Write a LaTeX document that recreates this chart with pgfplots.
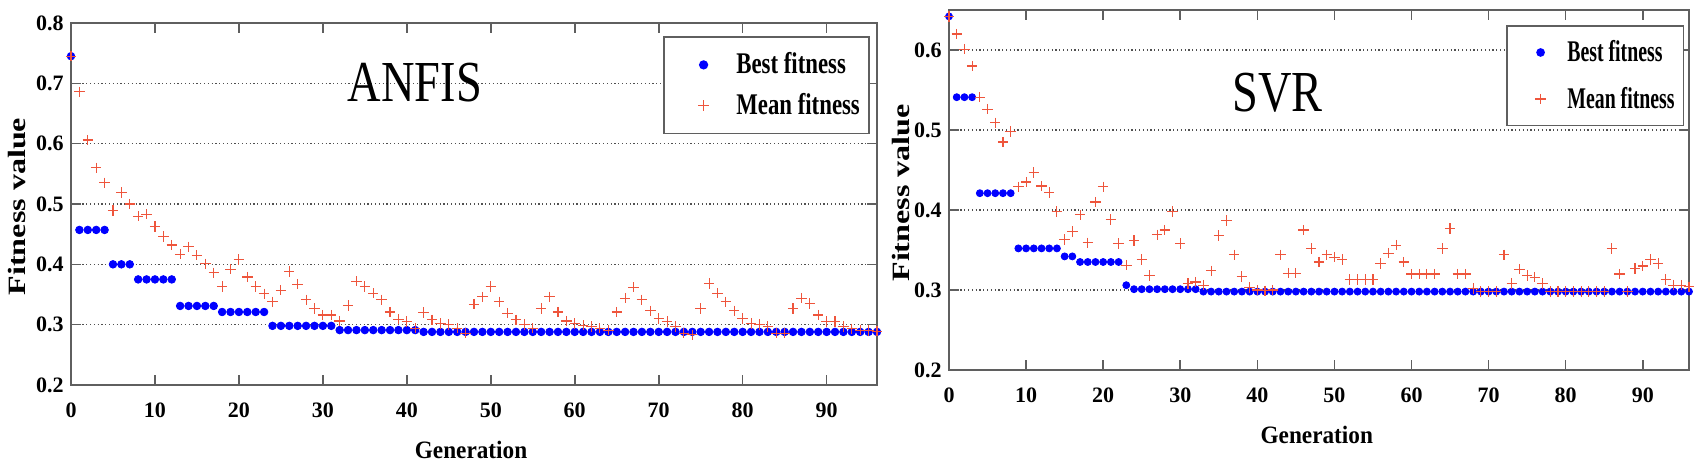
\documentclass[border=0pt]{standalone}
\usepackage{fontspec}
\setmainfont{Liberation Serif}
\usepackage{pgfplots}
\usepackage{pgfplotstable}
\pgfplotsset{compat=1.18}
\definecolor{bestc}{RGB}{0,0,255}
\definecolor{meanc}{RGB}{238,85,60}
\definecolor{axc}{RGB}{95,95,95}
\definecolor{gridc}{RGB}{80,80,80}

\pgfplotstableread{
x best mean
0 0.745 0.745
1 0.457 0.686
2 0.457 0.606
3 0.457 0.560
4 0.457 0.535
5 0.400 0.489
6 0.400 0.519
7 0.400 0.500
8 0.375 0.480
9 0.375 0.483
10 0.375 0.463
11 0.375 0.446
12 0.375 0.432
13 0.331 0.417
14 0.331 0.429
15 0.331 0.415
16 0.331 0.401
17 0.331 0.386
18 0.321 0.363
19 0.321 0.392
20 0.321 0.408
21 0.321 0.379
22 0.321 0.363
23 0.321 0.351
24 0.298 0.338
25 0.298 0.357
26 0.298 0.388
27 0.298 0.367
28 0.298 0.341
29 0.298 0.327
30 0.298 0.316
31 0.298 0.316
32 0.291 0.306
33 0.291 0.332
34 0.291 0.372
35 0.291 0.363
36 0.291 0.352
37 0.291 0.341
38 0.291 0.321
39 0.291 0.309
40 0.291 0.305
41 0.291 0.294
42 0.288 0.320
43 0.288 0.308
44 0.288 0.302
45 0.288 0.300
46 0.288 0.294
47 0.288 0.286
48 0.288 0.334
49 0.288 0.346
50 0.288 0.363
51 0.288 0.338
52 0.288 0.319
53 0.288 0.308
54 0.288 0.300
55 0.288 0.294
56 0.288 0.327
57 0.288 0.346
58 0.288 0.321
59 0.288 0.306
60 0.288 0.302
61 0.288 0.299
62 0.288 0.297
63 0.288 0.294
64 0.288 0.291
65 0.288 0.321
66 0.288 0.344
67 0.288 0.362
68 0.288 0.341
69 0.288 0.323
70 0.288 0.310
71 0.288 0.305
72 0.288 0.297
73 0.288 0.286
74 0.288 0.283
75 0.288 0.327
76 0.288 0.368
77 0.288 0.352
78 0.288 0.338
79 0.288 0.323
80 0.288 0.310
81 0.288 0.302
82 0.288 0.300
83 0.288 0.297
84 0.288 0.286
85 0.288 0.286
86 0.288 0.327
87 0.288 0.344
88 0.288 0.335
89 0.288 0.316
90 0.288 0.305
91 0.288 0.305
92 0.288 0.297
93 0.288 0.293
94 0.288 0.291
95 0.288 0.290
96 0.288 0.289
}\anfis

\pgfplotstableread{
x best mean
0 0.642 0.642
1 0.541 0.620
2 0.541 0.601
3 0.541 0.580
4 0.421 0.541
5 0.421 0.526
6 0.421 0.509
7 0.421 0.485
8 0.421 0.498
9 0.352 0.429
10 0.352 0.435
11 0.352 0.447
12 0.352 0.430
13 0.352 0.422
14 0.352 0.398
15 0.342 0.363
16 0.342 0.373
17 0.335 0.394
18 0.335 0.359
19 0.335 0.410
20 0.335 0.429
21 0.335 0.388
22 0.335 0.358
23 0.306 0.331
24 0.301 0.362
25 0.301 0.338
26 0.301 0.318
27 0.301 0.369
28 0.301 0.375
29 0.301 0.398
30 0.301 0.358
31 0.301 0.308
32 0.301 0.310
33 0.298 0.306
34 0.298 0.324
35 0.298 0.368
36 0.298 0.387
37 0.298 0.344
38 0.298 0.317
39 0.298 0.303
40 0.298 0.300
41 0.298 0.299
42 0.298 0.300
43 0.298 0.344
44 0.298 0.321
45 0.298 0.321
46 0.298 0.375
47 0.298 0.352
48 0.298 0.335
49 0.298 0.344
50 0.298 0.341
51 0.298 0.338
52 0.298 0.313
53 0.298 0.313
54 0.298 0.313
55 0.298 0.313
56 0.298 0.333
57 0.298 0.346
58 0.298 0.356
59 0.298 0.335
60 0.298 0.320
61 0.298 0.320
62 0.298 0.320
63 0.298 0.320
64 0.298 0.352
65 0.298 0.377
66 0.298 0.320
67 0.298 0.320
68 0.298 0.302
69 0.298 0.298
70 0.298 0.298
71 0.298 0.298
72 0.298 0.344
73 0.298 0.308
74 0.298 0.326
75 0.298 0.318
76 0.298 0.316
77 0.298 0.308
78 0.298 0.298
79 0.298 0.298
80 0.298 0.298
81 0.298 0.298
82 0.298 0.298
83 0.298 0.298
84 0.298 0.298
85 0.298 0.298
86 0.298 0.352
87 0.298 0.320
88 0.298 0.298
89 0.298 0.327
90 0.298 0.330
91 0.298 0.338
92 0.298 0.333
93 0.298 0.313
94 0.298 0.306
95 0.298 0.306
96 0.298 0.304
}\svr

\pgfplotsset{
  fitax/.style={
    scale only axis, xmin=0, xmax=96, ymin=0.2,
    xtick={0,10,...,90}, xticklabels={0,10,20,30,40,50,60,70,80,90},
    tick align=inside, major tick length=5pt,
    tick style={axc, line width=0.8pt},
    axis line style={axc, line width=1pt},
    ymajorgrids,
    major grid style={gridc, line width=0.6pt, dash pattern=on 0.6pt off 1.3pt},
    /pgf/number format/assume math mode=true,
    xticklabel style={font=\fontsize{11}{11}\selectfont\bfseries, anchor=base, inner sep=0pt, yshift=-16.5pt},
    yticklabel style={font=\fontsize{11}{11}\selectfont\bfseries, anchor=east, inner sep=0pt, xshift=-3.5pt},
    xlabel={\scalebox{0.93}[1]{Generation}},
    ylabel={\scalebox{1.07}[0.83]{Fitness value}},
    xlabel style={font=\fontsize{12.5}{12.5}\selectfont\bfseries, anchor=base, inner sep=0pt},
    ylabel style={font=\fontsize{15}{15}\selectfont\bfseries, anchor=center, inner sep=0pt},
    legend cell align=left,
  },
  bestp/.style={only marks, mark=*, mark size=1.9pt, color=bestc, mark options={draw=bestc, fill=bestc}},
  meanp/.style={only marks, mark=+, mark size=2.6pt, color=meanc, mark options={line width=0.55pt}},
}

\begin{document}
\begin{tikzpicture}

% ANFIS
\begin{axis}[fitax,
  at={(35.5pt,39.5pt)}, anchor=south west,
  width=403pt, height=181pt,
  ymax=0.8, ytick={0.2,0.3,0.4,0.5,0.6,0.7,0.8},
  yticklabels={0.2,0.3,0.4,0.5,0.6,0.7,0.8},
  xlabel style={at={(axis description cs:0.4963,-0.2017)}},
  ylabel style={at={(axis description cs:-0.0676,0.493)}},
  legend style={at={(0.7345,0.964)}, anchor=north west, draw=axc, line width=0.8pt, fill=white,
    inner xsep=4pt, inner ysep=8pt, row sep=8.2pt,
    font=\fontsize{15}{15}\selectfont\bfseries,
    nodes={inner ysep=0pt, inner xsep=0.5pt}},
  legend image code/.code={\path (0pt,0pt) (31pt,0pt); \draw[#1] plot coordinates {(15.5pt,0pt)};},
]
\addplot[bestp] table[x=x, y=best] {\anfis};
\addlegendentry{\scalebox{0.76}[1]{Best fitness}}
\addplot[meanp] table[x=x, y=mean] {\anfis};
\addlegendentry{\scalebox{0.76}[1]{Mean fitness}}
\node[font=\fontsize{29}{29}\selectfont] at (rel axis cs:0.4268,0.8356) {\scalebox{0.8}[1]{ANFIS}};
\end{axis}

% SVR
\begin{axis}[fitax,
  at={(474.5pt,47pt)}, anchor=south west,
  width=370pt, height=180pt,
  ymax=0.65, ytick={0.2,0.3,0.4,0.5,0.6},
  yticklabels={0.2,0.3,0.4,0.5,0.6},
  xlabel style={at={(axis description cs:0.497,-0.2028)}},
  ylabel style={at={(axis description cs:-0.0655,0.492)}},
  legend style={at={(0.7527,0.9583)}, anchor=north west, draw=axc, line width=0.8pt, fill=white,
    inner xsep=4pt, inner ysep=7.3pt, row sep=11.2pt,
    font=\fontsize{15}{15}\selectfont\bfseries,
    nodes={inner ysep=0pt, inner xsep=0.5pt}},
  legend image code/.code={\path (0pt,0pt) (25pt,0pt); \draw[#1] plot coordinates {(12.5pt,0pt)};},
]
\addplot[bestp, mark size=1.75pt] table[x=x, y=best] {\svr};
\addlegendentry{\scalebox{0.66}[1]{Best fitness}}
\addplot[meanp] table[x=x, y=mean] {\svr};
\addlegendentry{\scalebox{0.66}[1]{Mean fitness}}
\node[font=\fontsize{29}{29}\selectfont] at (rel axis cs:0.4439,0.7708) {\scalebox{0.8}[1]{SVR}};
\end{axis}

\pgfresetboundingbox
\path[use as bounding box] (0,0) rectangle (848.5pt,232pt);
\end{tikzpicture}
\end{document}
